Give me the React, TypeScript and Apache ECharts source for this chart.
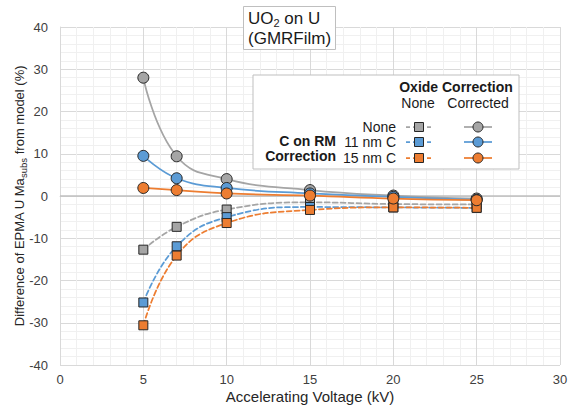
import React, { useEffect, useRef } from "react";
import * as echarts from "echarts";

// Accelerating voltage (kV)
const voltages = [5, 7, 10, 15, 20, 25];

// Oxide correction applied (solid lines, circles)
const noneCorrected = [28.0, 9.4, 4.0, 1.4, 0.1, -0.6];
const c11Corrected = [9.5, 4.2, 1.9, 0.6, -0.2, -0.9];
const c15Corrected = [1.9, 1.4, 0.6, 0.1, -0.6, -1.0];

// No oxide correction (dashed lines, squares)
const noneRaw = [-12.7, -7.3, -3.2, -1.5, -1.9, -2.0];
const c11Raw = [-25.2, -11.9, -5.0, -2.6, -2.7, -2.8];
const c15Raw = [-30.6, -14.1, -6.4, -3.3, -2.7, -2.8];

const xTicks = [0, 5, 10, 15, 20, 25, 30];
const yTicks = [-40, -30, -20, -10, 0, 10, 20, 30, 40];

const GRAY = "#A5A5A5";
const BLUE = "#5B9BD5";
const ORANGE = "#ED7D31";
const EDGE = "#262626";
const FONT = "Liberation Sans, Arial, sans-serif";

const pairs = (ys: number[]) => voltages.map((v, i) => [v, ys[i]]);

function seriesOf(name: string, ys: number[], color: string, dashed: boolean) {
  return {
    name,
    type: "line",
    data: pairs(ys),
    smooth: 0.45,
    symbol: dashed ? "rect" : "circle",
    symbolSize: dashed ? 9 : 11,
    itemStyle: { color, borderColor: EDGE, borderWidth: 1 },
    lineStyle: { color, width: 1.75, type: dashed ? [5, 3] : "solid", cap: "round" },
    z: dashed ? 3 : 4,
  };
}

function legendGraphic() {
  const Z = 100;
  const sq = (x: number, y: number, color: string) => [
    { type: "line", z: Z, shape: { x1: x - 13, y1: y, x2: x + 13, y2: y }, style: { stroke: color, lineWidth: 1.75, lineDash: [4, 3] } },
    { type: "rect", z: Z + 1, shape: { x: x - 4.5, y: y - 4.5, width: 9, height: 9 }, style: { fill: color, stroke: EDGE, lineWidth: 1 } },
  ];
  const ci = (x: number, y: number, color: string) => [
    { type: "line", z: Z, shape: { x1: x - 14, y1: y, x2: x + 14, y2: y }, style: { stroke: color, lineWidth: 1.75 } },
    { type: "circle", z: Z + 1, shape: { cx: x, cy: y, r: 5 }, style: { fill: color, stroke: EDGE, lineWidth: 1 } },
  ];
  const txt = (x: number, y: number, text: string, align: string, bold = false) => ({
    type: "text",
    z: Z,
    x,
    y,
    style: {
      text,
      fill: "#1a1a1a",
      font: `${bold ? "bold " : ""}14px ${FONT}`,
      align,
      verticalAlign: "middle",
    },
  });
  const rows = [
    { y: 127, label: "None", color: GRAY },
    { y: 142, label: "11 nm C", color: BLUE },
    { y: 158, label: "15 nm C", color: ORANGE },
  ];
  const children: any[] = [
    {
      type: "rect",
      z: Z - 1,
      shape: { x: 253, y: 75, width: 266, height: 94 },
      style: { fill: "#ffffff", stroke: "#bfbfbf", lineWidth: 1 },
    },
    txt(456, 87, "Oxide Correction", "center", true),
    txt(418, 103, "None", "center"),
    txt(478, 103, "Corrected", "center"),
    txt(336, 141, "C on RM", "right", true),
    txt(336, 156, "Correction", "right", true),
  ];
  rows.forEach((r) => {
    children.push(txt(396, r.y, r.label, "right"));
    children.push(...sq(419, r.y, r.color));
    children.push(...ci(478, r.y, r.color));
  });
  return children;
}

export default function App() {
  const ref = useRef<HTMLDivElement>(null);

  useEffect(() => {
    if (!ref.current) return;
    const chart = echarts.init(ref.current, undefined, { renderer: "svg" });
    const series: any[] = [
      seriesOf("None / None", noneRaw, GRAY, true),
      seriesOf("None / Corrected", noneCorrected, GRAY, false),
      seriesOf("11 nm C / None", c11Raw, BLUE, true),
      seriesOf("11 nm C / Corrected", c11Corrected, BLUE, false),
      seriesOf("15 nm C / None", c15Raw, ORANGE, true),
      seriesOf("15 nm C / Corrected", c15Corrected, ORANGE, false),
    ];
    // darker reference line at zero
    series[0].markLine = {
      silent: true,
      symbol: "none",
      label: { show: false },
      lineStyle: { color: "#bfbfbf", width: 1.5, type: "solid" },
      data: [{ yAxis: 0 }],
      z: 1,
    };

    const richBase = { color: "#1a1a1a", fontFamily: FONT, fontWeight: "normal" };

    chart.setOption({
      animation: false,
      backgroundColor: "#ffffff",
      textStyle: { fontFamily: FONT },
      title: {
        text: "{a|UO}{s|2}{a| on U}\n{a|(GMRFilm)}",
        left: 243,
        top: 5,
        padding: [3, 5, 3, 5],
        borderColor: "#bfbfbf",
        borderWidth: 1,
        backgroundColor: "#ffffff",
        textStyle: {
          fontWeight: "normal",
          rich: {
            a: { ...richBase, fontSize: 17, lineHeight: 20, verticalAlign: "middle" },
            s: { ...richBase, fontSize: 11, lineHeight: 10, verticalAlign: "bottom" },
          },
        },
      },
      grid: { left: 60, right: 8, top: 27, bottom: 42, containLabel: false, outerBoundsMode: "none" },
      xAxis: {
        type: "value",
        min: xTicks[0],
        max: xTicks[xTicks.length - 1],
        interval: 5,
        name: "Accelerating Voltage (kV)",
        nameLocation: "middle",
        nameGap: 24,
        nameMoveOverlap: false,
        nameTextStyle: { fontSize: 15, color: "#262626", fontFamily: FONT },
        axisLine: { show: true, lineStyle: { color: "#d9d9d9", width: 1 } },
        axisTick: { show: false },
        axisLabel: { fontSize: 13, color: "#404040", margin: 8, fontFamily: FONT },
        splitLine: { show: true, lineStyle: { color: "#d9d9d9", width: 1 } },
        minorTick: { show: false, splitNumber: 5 },
        minorSplitLine: { show: true, lineStyle: { color: "#f0f0f0", width: 1 } },
      },
      yAxis: {
        type: "value",
        min: yTicks[0],
        max: yTicks[yTicks.length - 1],
        interval: 10,
        name: "{a|Difference of EPMA U Ma}{s|subs}{a| from model (%)}",
        nameLocation: "middle",
        nameRotate: 90,
        nameGap: 32,
        nameMoveOverlap: false,
        nameTextStyle: {
          rich: {
            a: { fontSize: 13, lineHeight: 18, color: "#262626", fontFamily: FONT, verticalAlign: "middle" },
            s: { fontSize: 9.5, lineHeight: 8, color: "#262626", fontFamily: FONT, verticalAlign: "bottom" },
          },
        },
        axisLine: { show: true, lineStyle: { color: "#d9d9d9", width: 1 } },
        axisTick: { show: false },
        axisLabel: { fontSize: 13, color: "#404040", margin: 12, fontFamily: FONT },
        splitLine: { show: true, lineStyle: { color: "#d9d9d9", width: 1 } },
        minorTick: { show: false, splitNumber: 5 },
        minorSplitLine: { show: true, lineStyle: { color: "#f0f0f0", width: 1 } },
      },
      series,
      graphic: legendGraphic(),
    });
    return () => chart.dispose();
  }, []);

  return <div ref={ref} style={{ width: 568, height: 407, position: "absolute", left: 0, top: 0 }} />;
}
